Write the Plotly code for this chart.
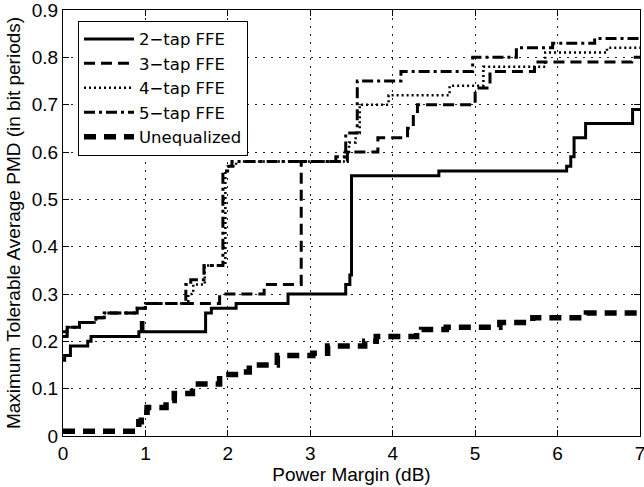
import plotly.graph_objects as go

# ---- data ----
x_2tap = [0, 0.02, 0.09, 0.3, 0.34, 0.92, 0.95, 0.97, 1.73, 1.8, 2.1, 2.73, 3.43, 3.48, 3.50, 4.56, 6.11, 6.16, 6.2, 6.34, 6.91, 7.0]
y_2tap = [0.16, 0.17, 0.19, 0.20, 0.21, 0.22, 0.24, 0.22, 0.26, 0.27, 0.28, 0.30, 0.32, 0.34, 0.55, 0.56, 0.57, 0.59, 0.63, 0.66, 0.69, 0.69]

x_3tap = [0, 0.05, 0.2, 0.4, 0.5, 0.9, 1.0, 1.9, 2.44, 2.89, 3.45, 3.82, 4.18, 4.25, 4.3, 5.0, 5.18, 5.72, 6.9, 7.0]
y_3tap = [0.21, 0.23, 0.24, 0.25, 0.26, 0.27, 0.28, 0.30, 0.32, 0.58, 0.60, 0.63, 0.65, 0.68, 0.70, 0.735, 0.77, 0.79, 0.80, 0.80]

x_4tap = [0, 0.05, 0.2, 0.4, 0.5, 0.9, 1.0, 1.52, 1.58, 1.72, 1.97, 2.0, 2.1, 3.42, 3.47, 3.55, 3.6, 3.95, 4.69, 5.1, 5.85, 6.6, 7.0]
y_4tap = [0.21, 0.23, 0.24, 0.25, 0.26, 0.27, 0.28, 0.30, 0.32, 0.36, 0.56, 0.57, 0.58, 0.60, 0.62, 0.64, 0.70, 0.72, 0.74, 0.78, 0.81, 0.82, 0.82]

x_5tap = [0, 0.05, 0.2, 0.4, 0.5, 0.9, 1.0, 1.49, 1.55, 1.71, 1.94, 1.99, 2.05, 3.31, 3.43, 3.57, 4.1, 4.97, 5.5, 5.94, 6.45, 7.0]
y_5tap = [0.22, 0.23, 0.24, 0.25, 0.26, 0.27, 0.28, 0.32, 0.33, 0.36, 0.56, 0.57, 0.58, 0.59, 0.64, 0.75, 0.77, 0.80, 0.82, 0.83, 0.84, 0.84]

x_uneq = [0, 0.92, 0.95, 1.02, 1.25, 1.35, 1.57, 1.9, 2.14, 2.26, 2.6, 3.03, 3.21, 3.66, 3.8, 4.29, 4.35, 4.65, 5.3, 5.7, 6.35, 7.0]
y_uneq = [0.01, 0.03, 0.05, 0.06, 0.075, 0.09, 0.11, 0.13, 0.135, 0.15, 0.17, 0.175, 0.19, 0.2, 0.21, 0.22, 0.225, 0.23, 0.24, 0.25, 0.26, 0.26]

x_ticks = [0, 1, 2, 3, 4, 5, 6, 7]
y_ticks = [0, 0.1, 0.2, 0.3, 0.4, 0.5, 0.6, 0.7, 0.8, 0.9]
y_tick_labels = ["0", "0.1", "0.2", "0.3", "0.4", "0.5", "0.6", "0.7", "0.8", "0.9"]

series = [
    ("2\u2212tap FFE", x_2tap, y_2tap, dict(width=3, dash="solid")),
    ("3\u2212tap FFE", x_3tap, y_3tap, dict(width=3, dash="11px,6px")),
    ("4\u2212tap FFE", x_4tap, y_4tap, dict(width=2.5, dash="2px,3px")),
    ("5\u2212tap FFE", x_5tap, y_5tap, dict(width=3, dash="11px,4px,3px,4px")),
    ("Unequalized", x_uneq, y_uneq, dict(width=5.5, dash="12px,8px")),
]

fig = go.Figure()
for name, xs, ys, ln in series:
    fig.add_trace(go.Scatter(x=xs, y=ys, mode="lines", name=name, line_shape="hv",
                             line=dict(color="black", **ln)))

font = "Liberation Sans, Arial, sans-serif"
axis_common = dict(showline=True, linecolor="black", linewidth=1.2, mirror="ticks",
                   ticks="inside", ticklen=6, tickcolor="black", automargin=False,
                   ticklabeloverflow="allow",
                   showgrid=True, gridcolor="#222", gridwidth=1, griddash="1.5px,6.5px",
                   zeroline=False, tickfont=dict(size=19, color="black", family=font))

fig.update_layout(
    width=644, height=487,
    margin=dict(l=63, r=4, t=10, b=51),
    paper_bgcolor="white", plot_bgcolor="white",
    font=dict(family=font, color="black"),
    xaxis=dict(range=[0, 7], tickvals=x_ticks, title=dict(text="Power Margin (dB)", font=dict(size=19), standoff=4), **axis_common),
    yaxis=dict(range=[0, 0.9], tickvals=y_ticks, ticktext=y_tick_labels,
               title=dict(text="Maximum Tolerable Average PMD (in bit periods)", font=dict(size=19), standoff=6), **axis_common),
    legend=dict(x=0.026, y=0.975, xanchor="left", yanchor="top", bgcolor="white",
                bordercolor="black", borderwidth=1,
                font=dict(size=16.5, color="black", family="DejaVu Sans, sans-serif"),
                itemwidth=50, tracegroupgap=0),
    showlegend=True,
)

fig.write_html("out.html", config={"displayModeBar": False},
               post_script="document.body.style.margin='0';document.body.style.overflow='hidden';")
